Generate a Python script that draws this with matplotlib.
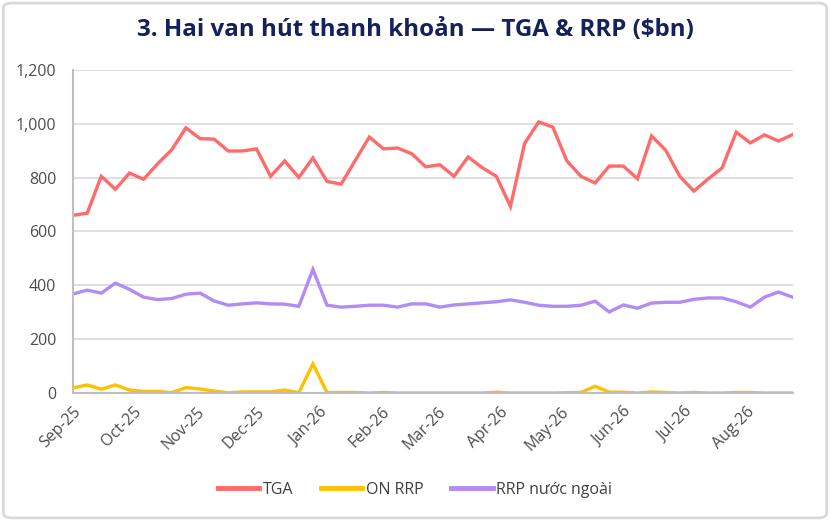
import numpy as np
import pandas as pd
import matplotlib
matplotlib.use("Agg")
import matplotlib.pyplot as plt
import matplotlib.dates as mdates
from matplotlib.patches import FancyBboxPatch

plt.rcParams['font.family'] = ['Open Sans', 'DejaVu Sans']

# weekly observations, Sep-25 .. Aug-26
dates = pd.date_range("2025-09-01", periods=52, freq="7D")

tga = [660, 668, 805, 757, 817, 794, 852, 904, 985, 945, 943, 899, 899, 907,
       805, 862, 801, 873, 786, 776, 864, 951, 907, 910, 889, 840, 848, 805,
       877, 837, 805, 693, 927, 1007, 988, 862, 805, 780, 843, 843, 796, 955,
       902, 805, 750, 795, 836, 969, 929, 959, 936, 960]
on_rrp = [19, 30, 14, 30, 11, 6, 6, 1, 20, 15, 7, 1, 4, 4, 4, 11, 1, 108, 2, 2,
          2, 0, 2, 0, 0, 0, 0, 0, 0, 0, 3, 0, 0, 0, 0, 1, 2, 25, 3, 3, 0, 4,
          2, 0, 2, 0, 0, 2, 2, 0, 0, 0]
rrp_foreign = [368, 382, 371, 408, 385, 356, 347, 351, 367, 371, 342, 326, 331,
               335, 331, 330, 322, 459, 326, 319, 322, 326, 326, 319, 331, 331,
               319, 327, 331, 335, 339, 346, 337, 326, 322, 322, 326, 341, 301,
               327, 315, 334, 337, 337, 348, 353, 353, 339, 319, 356, 375, 356]

series = [("TGA", tga, "#FF6B6B"),
          ("ON RRP", on_rrp, "#FFC000"),
          ("RRP nước ngoài", rrp_foreign, "#B38BF5")]

fig = plt.figure(figsize=(8.30, 5.21), dpi=100)
ax = fig.add_axes([0.088, 0.2457, 0.867, 0.62])

for name, vals, col in series:
    ax.plot(dates, vals, color=col, lw=2.4, label=name, solid_joinstyle="miter")

ax.set_ylim(0, 1200)
ax.set_yticks(range(0, 1201, 200))
ax.yaxis.set_major_formatter(matplotlib.ticker.FuncFormatter(lambda v, p: f"{int(v):,}"))
ax.set_xlim(dates[0], dates[-1])
ax.xaxis.set_major_locator(mdates.MonthLocator())
ax.xaxis.set_major_formatter(mdates.DateFormatter("%b-%y"))
plt.setp(ax.get_xticklabels(), rotation=45, ha="right", rotation_mode="anchor")

ax.grid(axis="y", color="#D9D9D9", lw=1.2)
ax.set_axisbelow(True)
for s in ["top", "right"]:
    ax.spines[s].set_visible(False)
for s in ["left", "bottom"]:
    ax.spines[s].set_color("#BFBFBF")
    ax.spines[s].set_linewidth(1.5)
ax.tick_params(length=0, colors="#4D4D4D", labelsize=11.5)
ax.tick_params(axis="y", pad=12)
ax.tick_params(axis="x", pad=8)

fig.suptitle("3. Hai van hút thanh khoản — TGA & RRP ($bn)", x=0.5, y=0.965,
             fontsize=17.4, fontweight="bold", color="#14215C")

leg = ax.legend(loc="center", bbox_to_anchor=(0.5, 0.06), bbox_transform=fig.transFigure,
                ncol=3, frameon=False, fontsize=11.5, handlelength=2.6, columnspacing=1.7,
                labelcolor="#404040", handletextpad=0.25)
for h in leg.get_lines():
    h.set_linewidth(3.5)

fig.patches.append(FancyBboxPatch((0.004, 0.006), 0.992, 0.988,
                                  boxstyle="round,pad=0,rounding_size=0.01",
                                  transform=fig.transFigure, fill=False,
                                  ec="#D9D9D9", lw=2))

fig.savefig("out.png", dpi=100)
